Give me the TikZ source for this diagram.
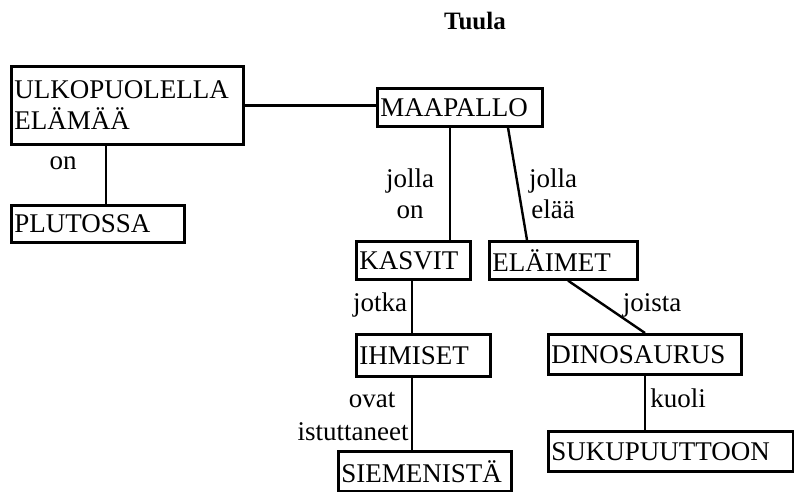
\documentclass[tikz,border=0pt]{standalone}
\usepackage{fontspec}
\setmainfont{Liberation Serif}
\begin{document}
\begin{tikzpicture}[x=1pt,y=-1pt,
  every node/.style={font=\fontsize{27}{31}\selectfont},
  box/.style={draw, line width=2.6pt, inner xsep=3pt, inner ysep=0pt,
    align=left, anchor=north west},
  link/.style={line width=2.4pt},
  lbl/.style={inner sep=0pt, align=center}]
\useasboundingbox (0,0) rectangle (794,491);

% title
\node[lbl, font=\fontsize{25}{30}\selectfont\bfseries] (title) at (475,21) {Tuula};

% concept boxes
\node[box, text width=226pt, minimum height=78pt] (ulko) at (10,65) {ULKOPUOLELLA\\ELÄMÄÄ};
\node[box, text width=159pt, minimum height=38pt] (maa) at (376,87) {MAAPALLO};
\node[box, text width=167pt, minimum height=37pt] (pluto) at (10,204) {PLUTOSSA};
\node[box, text width=108pt, minimum height=38pt] (kasvit) at (355,240) {KASVIT};
\node[box, text width=142pt, minimum height=38pt] (elaimet) at (488,240) {ELÄIMET};
\node[box, text width=128pt, minimum height=42pt] (ihmiset) at (355,333) {IHMISET};
\node[box, text width=167pt, minimum height=40pt] (siemen) at (337,450) {SIEMENISTÄ};
\node[box, text width=187pt, minimum height=40pt] (dino) at (547,333) {DINOSAURUS};
\node[box, text width=239pt, minimum height=40pt] (suku) at (547,430) {SUKUPUUTTOON};

% connectors
\draw[link] (ulko.east) -- (ulko.east -| maa.west);
\draw[link] ([xshift=96pt]ulko.south west) -- ([xshift=96pt]ulko.south west |- pluto.north);
\draw[link] ([xshift=74pt]maa.south west) -- ([xshift=74pt]maa.south west |- kasvit.north);
\draw[link] ([xshift=132pt]maa.south west) -- ([xshift=39pt]elaimet.north west);
\draw[link] ([xshift=57pt]kasvit.south west) -- ([xshift=57pt]kasvit.south west |- ihmiset.north);
\draw[link] ([xshift=57pt]ihmiset.south west) -- ([xshift=57pt]ihmiset.south west |- siemen.north);
\draw[link] ([xshift=80pt]elaimet.south west) -- ([xshift=98pt]dino.north west);
\draw[link] ([xshift=98pt]dino.south west) -- ([xshift=98pt]dino.south west |- suku.north);

% connector labels
\node[lbl] (on) at (63,163) {on};
\node[lbl] (jollaon) at (410,194) {jolla\\on};
\node[lbl] (jollaelaa) at (553,194) {jolla\\elää};
\node[lbl] (jotka) at (380,305) {jotka};
\node[lbl] (ovat) at (372,400) {ovat};
\node[lbl] (istut) at (353,432) {istuttaneet};
\node[lbl] (joista) at (652,305) {joista};
\node[lbl] (kuoli) at (678,398) {kuoli};
\end{tikzpicture}
\end{document}
